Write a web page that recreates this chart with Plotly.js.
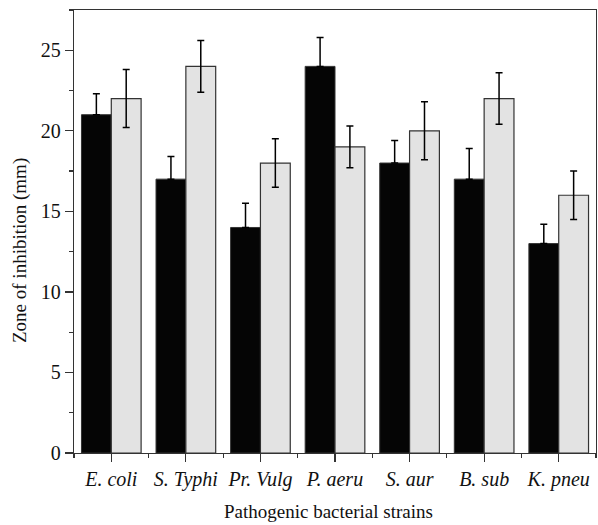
<!DOCTYPE html>
<html><head><meta charset="utf-8">
<script src="https://cdn.plot.ly/plotly-3.0.1.min.js"></script>
<style>body{margin:0;background:#fff}#chart{width:598px;height:525px}</style>
</head><body><div id="chart"></div>
<script>
const strains = ["<i>E. coli</i>", "<i>S. Typhi</i>", "<i>Pr. Vulg</i>", "<i>P. aeru</i>", "<i>S. aur</i>", "<i>B. sub</i>", "<i>K. pneu</i>"];
const seriesA = [21, 17, 14, 24, 18, 17, 13];
const errA = [1.3, 1.4, 1.5, 1.8, 1.4, 1.9, 1.2];
const seriesB = [22, 24, 18, 19, 20, 22, 16];
const errB = [1.8, 1.6, 1.5, 1.3, 1.8, 1.6, 1.5];

const font = "Liberation Serif, Times New Roman, serif";
const boundaries = strains.map((_, i) => i - 0.5).concat([strains.length - 0.5]);

const traces = [
  {type: "bar", x: strains, y: seriesA, name: "A",
   marker: {color: "#050505", line: {color: "#333", width: 1}},
   error_y: {type: "data", symmetric: false, array: errA, arrayminus: errA.map(() => 0), visible: true, color: "#000", thickness: 1.5, width: 3.5}},
  {type: "bar", x: strains, y: seriesB, name: "B",
   marker: {color: "#e3e3e3", line: {color: "#333", width: 1.2}},
   error_y: {type: "data", array: errB, visible: true, color: "#000", thickness: 1.5, width: 3.5}},
  {type: "scatter", x: [], y: [], xaxis: "x2", showlegend: false, hoverinfo: "skip"}
];

const layout = {
  width: 598, height: 525,
  margin: {l: 74, r: 2, t: 10, b: 72},
  paper_bgcolor: "#fff", plot_bgcolor: "#fff",
  showlegend: false,
  barmode: "group", bargap: 0.2, bargroupgap: 0,
  font: {family: font, color: "#111", size: 19},
  xaxis: {
    type: "category", range: [-0.5, strains.length - 0.5],
    showline: true, linecolor: "#333", linewidth: 1.2, mirror: true,
    ticks: "outside", ticklen: 8, tickcolor: "#333", tickwidth: 1.2,
    tickfont: {family: font, size: 20, color: "#111"},
    showgrid: false, zeroline: false
  },
  xaxis2: {
    overlaying: "x", type: "linear", range: [-0.5, strains.length - 0.5],
    tickmode: "array", tickvals: boundaries, showticklabels: false,
    ticks: "outside", ticklen: 4, tickcolor: "#333", tickwidth: 1.2,
    showgrid: false, zeroline: false, showline: false
  },
  yaxis: {
    range: [0, 27.5], dtick: 5, tick0: 0,
    showline: true, linecolor: "#333", linewidth: 1.2, mirror: true,
    ticks: "outside", ticklen: 8, tickcolor: "#333", tickwidth: 1.2,
    minor: {dtick: 2.5, ticks: "outside", ticklen: 4, tickcolor: "#333", tickwidth: 1.2, showgrid: false},
    tickfont: {family: font, size: 20, color: "#111"},
    showgrid: false, zeroline: false
  },
  annotations: [
    {text: "Zone of inhibition (mm)", xref: "paper", yref: "paper", x: -54 / 522, y: 0.456,
     xanchor: "center", yanchor: "middle", textangle: -90, showarrow: false,
     font: {family: font, size: 19, color: "#111"}},
    {text: "Pathogenic bacterial strains", xref: "paper", yref: "paper", x: 0.487, y: -58 / 443,
     xanchor: "center", yanchor: "middle", showarrow: false,
     font: {family: font, size: 19, color: "#111"}}
  ]
};

Plotly.newPlot("chart", traces, layout, {displayModeBar: false, staticPlot: true});
</script></body></html>
